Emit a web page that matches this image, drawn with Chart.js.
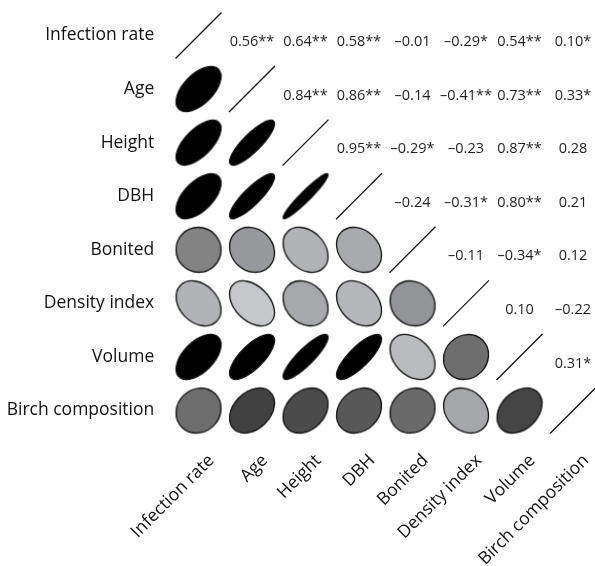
<!DOCTYPE html>
<html>
<head>
<meta charset="utf-8">
<script src="https://cdn.jsdelivr.net/npm/chart.js@4/dist/chart.umd.min.js"></script>
<style>
html,body{margin:0;padding:0;background:#fff;}
#wrap{width:595px;height:566px;position:relative;}
</style>
</head>
<body>
<div id="wrap"><canvas id="c" width="595" height="566"></canvas></div>
<script>
// ---- DATA ----
const variables = ["Infection rate","Age","Height","DBH","Bonited","Density index","Volume","Birch composition"];
// correlations of each variable with the variables that follow it
const rInfection = [0.56, 0.64, 0.58, -0.01, -0.29, 0.54, 0.10];
const rAge       = [0.84, 0.86, -0.14, -0.41, 0.73, 0.33];
const rHeight    = [0.95, -0.29, -0.23, 0.87, 0.28];
const rDBH       = [-0.24, -0.31, 0.80, 0.21];
const rBonited   = [-0.11, -0.34, 0.12];
const rDensity   = [0.10, -0.22];
const rVolume    = [0.31];
// significance marks for the same pairs
const sInfection = ["**","**","**","","*","**","*"];
const sAge       = ["**","**","","**","**","*"];
const sHeight    = ["**","*","","**",""];
const sDBH       = ["","*","**",""];
const sBonited   = ["","*",""];
const sDensity   = ["",""];
const sVolume    = ["*"];

const rRows = [rInfection, rAge, rHeight, rDBH, rBonited, rDensity, rVolume];
const sRows = [sInfection, sAge, sHeight, sDBH, sBonited, sDensity, sVolume];

// ---- build tables ----
const n = variables.length;
function corr(i, j) { // i<j
  return rRows[i][j - i - 1];
}
const lowerPoints = [];
const upperCells = [];
for (let i = 0; i < n; i++) {
  for (let j = 0; j < n; j++) {
    if (i > j) lowerPoints.push({x: j, y: i, r: corr(j, i)});
    if (i < j) upperCells.push({x: j, y: i, r: corr(i, j), s: sRows[i][j - i - 1]});
  }
}
const diagPoints = variables.map((_, i) => ({x: i, y: i}));

// ---- styling helpers ----
const FONT = "'Open Sans', 'Noto Sans', sans-serif";
function grayFor(r) {
  // piecewise grey ramp: negative -> light, positive -> black
  const stops = [[-0.45, 205], [0, 128], [0.33, 64], [0.5, 0], [1, 0]];
  let g = stops[0][1];
  if (r <= stops[0][0]) g = stops[0][1];
  else {
    for (let k = 0; k < stops.length - 1; k++) {
      const [r0, g0] = stops[k], [r1, g1] = stops[k + 1];
      if (r >= r0 && r <= r1) { g = g0 + (g1 - g0) * (r - r0) / (r1 - r0); break; }
    }
  }
  g = Math.round(g);
  const tint = g > 140 ? 4 : 0;
  return `rgb(${g},${Math.min(255, g + 1)},${Math.min(255, g + tint)})`;
}
const cache = {};
function ellipseCanvas(r) {
  const key = r.toFixed(2);
  if (cache[key]) return cache[key];
  const size = 56;
  const c = document.createElement('canvas');
  c.width = size; c.height = size;
  const g = c.getContext('2d');
  const s = 22.5;
  const a = s * Math.sqrt(1 + Math.abs(r));
  const b = s * Math.sqrt(1 - Math.abs(r));
  g.translate(size / 2, size / 2);
  g.rotate(r >= 0 ? -Math.PI / 4 : Math.PI / 4);
  g.beginPath();
  g.ellipse(0, 0, a, b, 0, 0, Math.PI * 2);
  g.fillStyle = grayFor(r);
  g.fill();
  g.lineWidth = 1.3;
  g.strokeStyle = '#111';
  g.stroke();
  cache[key] = c;
  return c;
}

const upperTextPlugin = {
  id: 'upperText',
  afterDatasetsDraw(chart) {
    const {ctx, scales: {x, y}} = chart;
    ctx.save();
    ctx.font = `14.5px ${FONT}`;
    ctx.fillStyle = '#231f20';
    ctx.textAlign = 'center';
    ctx.textBaseline = 'middle';
    upperCells.forEach(c => {
      const txt = (c.r < 0 ? '\u2013' : '') + Math.abs(c.r).toFixed(2) + c.s;
      ctx.fillText(txt, x.getPixelForValue(c.x), y.getPixelForValue(c.y) + 6.5);
    });
    ctx.restore();
  }
};

const ticksFor = s => { s.ticks = variables.map((_, i) => ({value: i})); };

new Chart(document.getElementById('c'), {
  type: 'scatter',
  data: {
    datasets: [
      {
        data: lowerPoints,
        pointStyle: ctx => ellipseCanvas(ctx.raw.r),
        pointRadius: 22,
        clip: false,
      },
      {
        data: diagPoints,
        pointStyle: 'line',
        pointRotation: -45,
        pointRadius: 32.5,
        borderColor: '#111',
        pointBorderWidth: 1.3,
        borderWidth: 1.3,
        clip: false,
      }
    ]
  },
  options: {
    responsive: false,
    animation: false,
    events: [],
    layout: {autoPadding: false, padding: {top: 8.7, left: 0, right: 0, bottom: 0}},
    plugins: {legend: {display: false}, tooltip: {enabled: false}},
    scales: {
      x: {
        type: 'linear',
        position: 'bottom',
        min: -0.5,
        max: 7.411,
        grid: {display: false, drawTicks: false},
        border: {display: false},
        afterBuildTicks: ticksFor,
        afterFit: s => { s.height = 128.7; s.paddingLeft = 0; s.paddingRight = 0; },
        ticks: {
          autoSkip: false,
          minRotation: 45,
          maxRotation: 45,
          padding: 13,
          labelOffset: 13,
          color: '#111',
          font: {family: FONT, size: 17.5},
          callback: v => variables[v]
        }
      },
      y: {
        type: 'linear',
        reverse: true,
        min: -0.5,
        max: 7.5,
        grid: {display: false, drawTicks: false},
        border: {display: false},
        afterBuildTicks: ticksFor,
        afterFit: s => { s.width = 171.75; s.paddingTop = 0; s.paddingBottom = 0; },
        ticks: {
          autoSkip: false,
          padding: 17.5,
          color: '#111',
          font: {family: FONT, size: 17.5},
          callback: v => variables[v]
        }
      }
    }
  },
  plugins: [upperTextPlugin]
});
</script>
</body>
</html>
